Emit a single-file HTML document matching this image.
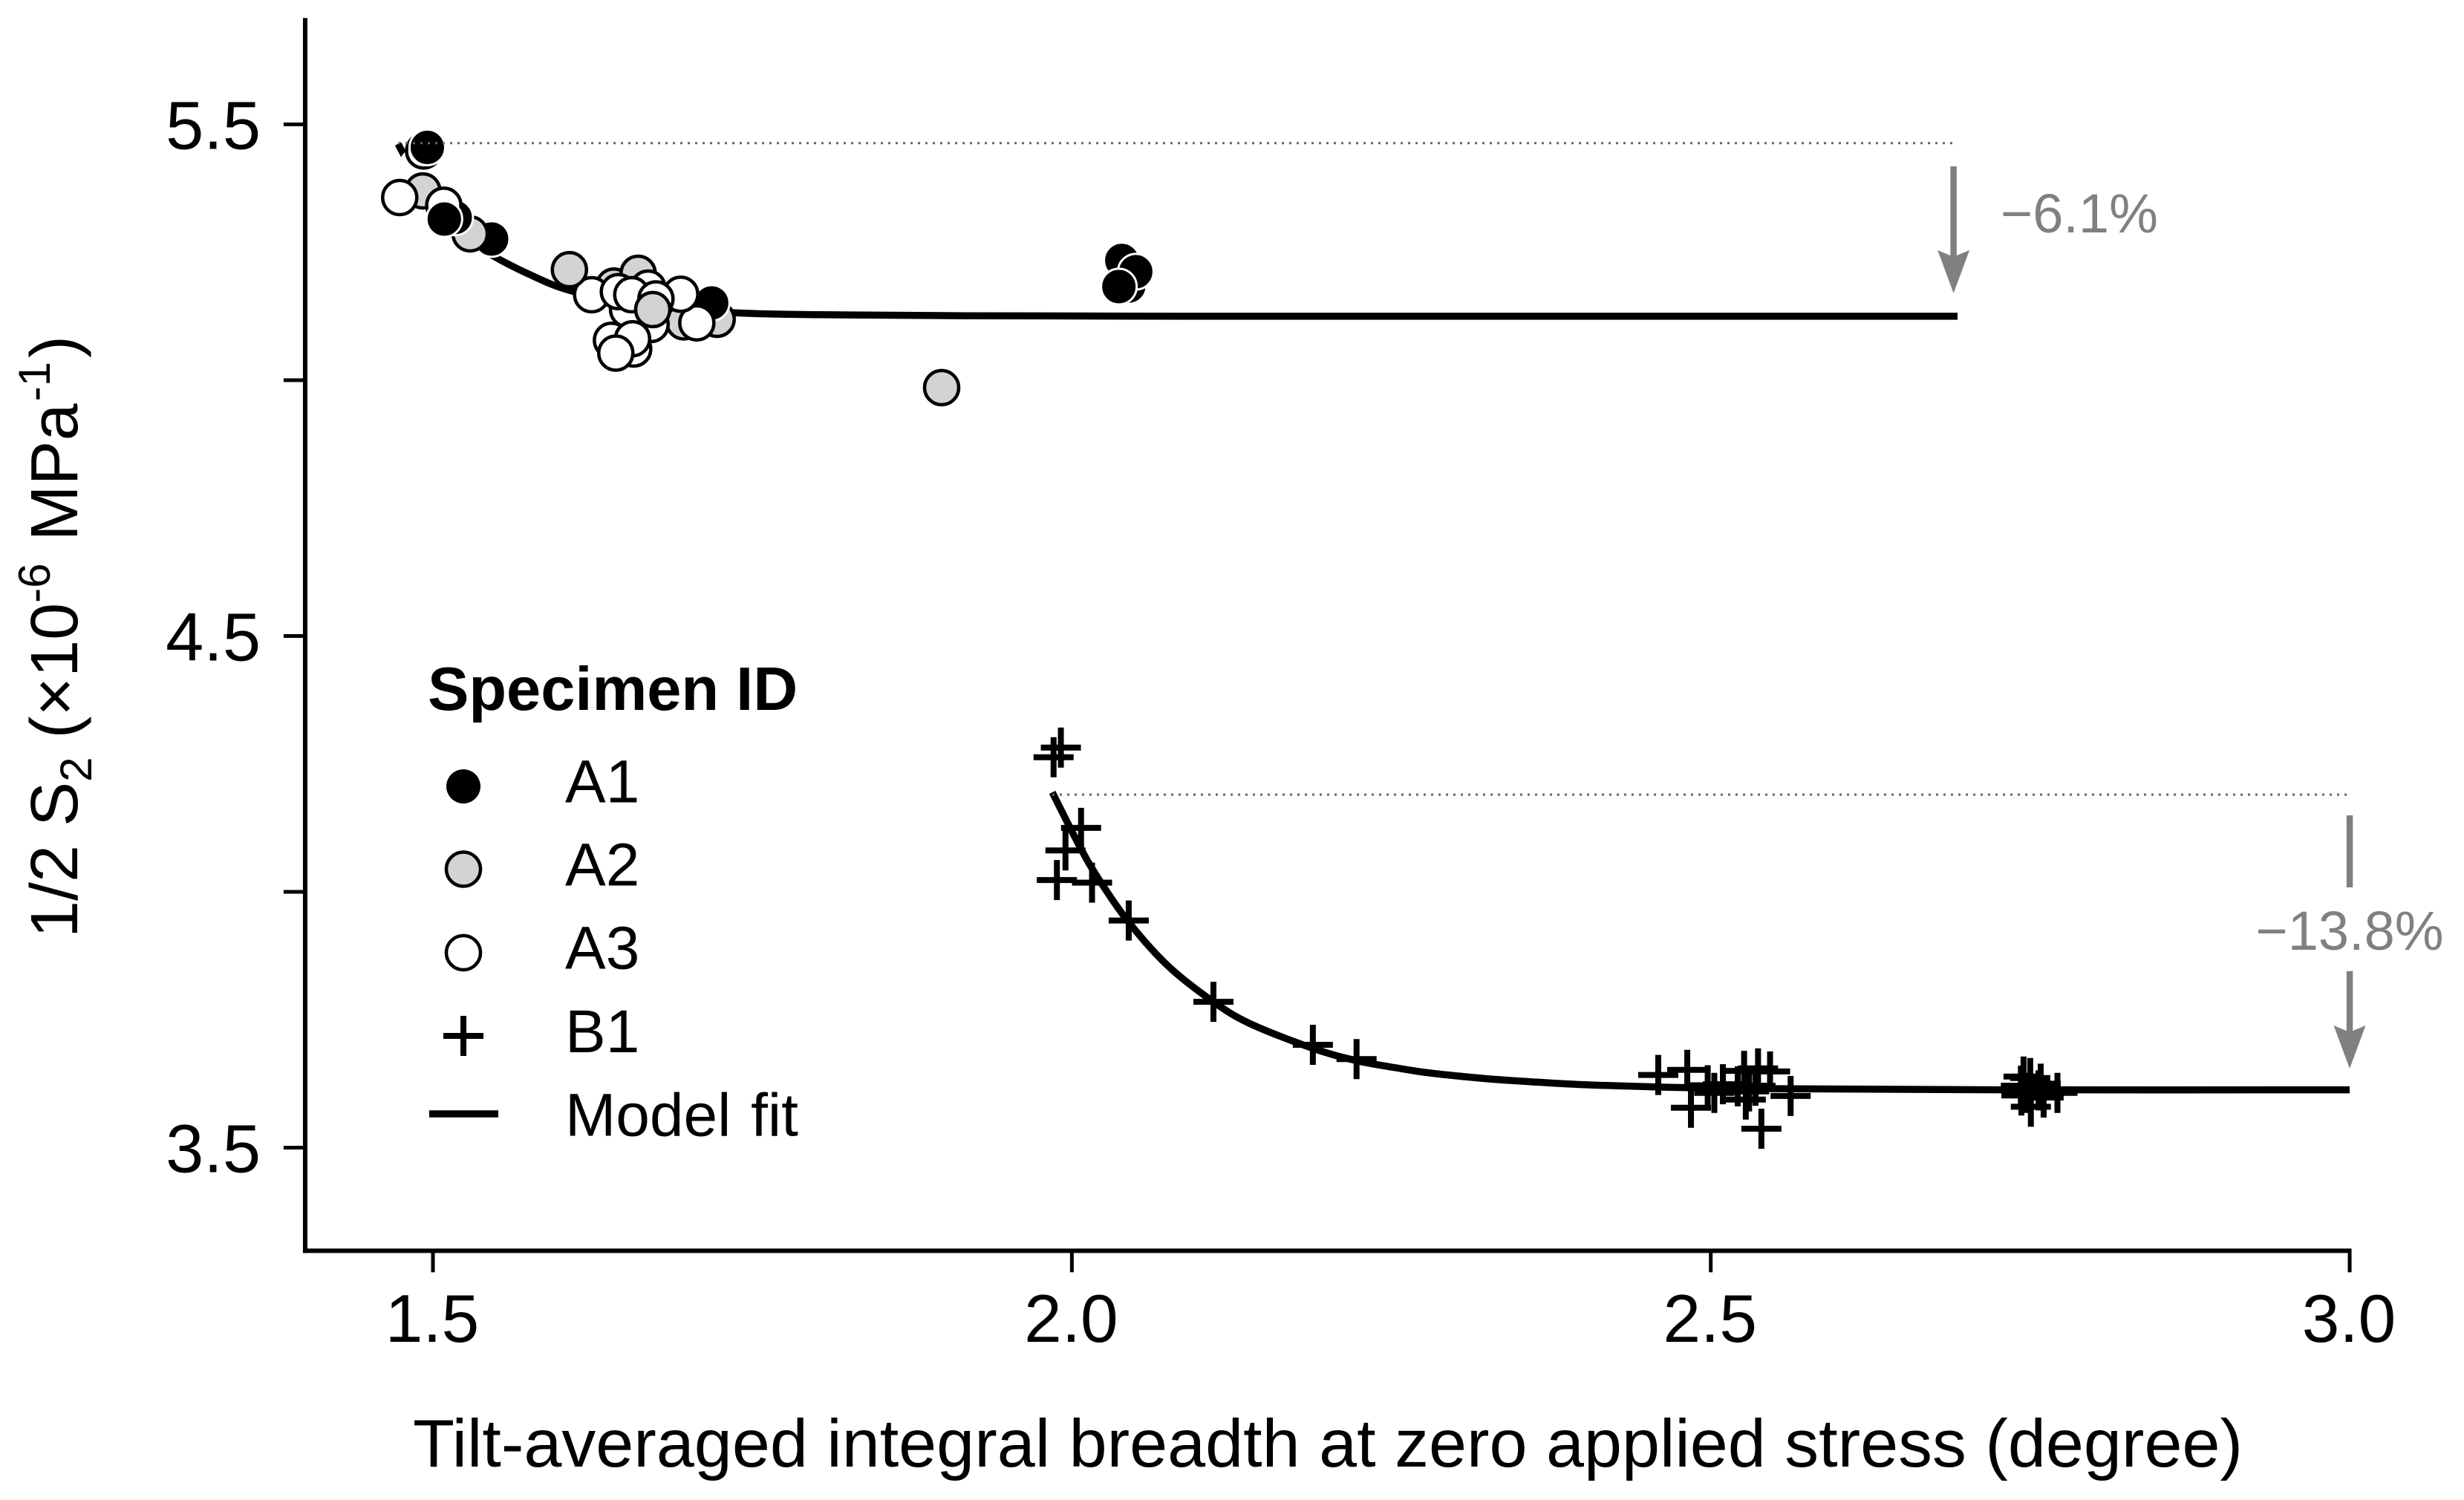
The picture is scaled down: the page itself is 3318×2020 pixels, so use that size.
<!DOCTYPE html>
<html lang="en">
<head>
<meta charset="utf-8">
<title>Integral breadth vs 1/2 S2</title>
<style>
html,body{margin:0;padding:0;background:#fff;}
svg{display:block;font-family:"Liberation Sans",Arial,sans-serif;}
</style>
</head>
<body>
<svg id="chart" width="3318" height="2020" viewBox="0 0 3318 2020" xmlns="http://www.w3.org/2000/svg">
  <rect width="3318" height="2020" fill="#fff"/>
  <g id="axes"></g>
  <g id="fits"></g>
  <g id="circles"></g>
  <g id="pluses"></g>
  <g id="annotations"></g>

  <text x="556" y="1975" font-size="91" textLength="2464" lengthAdjust="spacingAndGlyphs" fill="#000">Tilt-averaged integral breadth at zero applied stress (degree)</text>
  <text transform="translate(104,1263) rotate(-90)" font-size="90" fill="#000">1/2 S<tspan font-size="60" dy="19">2</tspan><tspan dy="-19"> (×10</tspan><tspan font-size="60" dy="-37">-6</tspan><tspan dy="37" dx="5"> MPa</tspan><tspan font-size="60" dy="-37" dx="3">-1</tspan><tspan dy="37" dx="5">)</tspan></text>

  <g fill="#000">
    <text x="576" y="956" font-size="83" font-weight="700">Specimen ID</text>
    <circle cx="624" cy="1059" r="23" fill="#000"/>
    <circle cx="624" cy="1170.5" r="23" fill="#d3d3d3" stroke="#000" stroke-width="4.5"/>
    <circle cx="624" cy="1283" r="23" fill="#fff" stroke="#000" stroke-width="4.5"/>
    <path d="M597 1395H651M624 1368V1422" stroke="#000" stroke-width="8" fill="none"/>
    <path d="M578 1500H671" stroke="#000" stroke-width="9.5" fill="none"/>
    <text x="761" y="1080.5" font-size="82">A1</text>
    <text x="761" y="1192.5" font-size="82">A2</text>
    <text x="761" y="1304.5" font-size="82">A3</text>
    <text x="761" y="1417" font-size="82">B1</text>
    <text x="761" y="1529.5" font-size="82" word-spacing="4">Model fit</text>
  </g>
</svg>
<script>
const xTicks = [1.5, 2.0, 2.5, 3.0];
const xTickLabels = ['1.5', '2.0', '2.5', '3.0'];
const yTicks = [3.5, 4.0, 4.5, 5.0, 5.5];
const yTickLabels = ['3.5', '', '4.5', '', '5.5'];

const fitAX = [1.4727,1.4866,1.5099,1.5331,1.5506,1.5796,1.6029,1.6377,1.6726,1.7348,1.8005,1.9167,2.091,2.3235,2.6931];
const fitAY = [5.462,5.399,5.319,5.267,5.238,5.202,5.1785,5.157,5.144,5.132,5.128,5.126,5.125,5.125,5.125];
const fitBX = [1.9847,2.0062,2.0205,2.0438,2.0749,2.1108,2.1398,2.1887,2.2228,2.2538,2.2799,2.3235,2.3642,2.4106,2.4862,2.5664,2.7303,3.0];
const fitBY = [4.1945,4.0885,4.027,3.943,3.856,3.785,3.742,3.694,3.670,3.656,3.646,3.635,3.628,3.622,3.617,3.615,3.613,3.613];

const circleSpecimen = ['A3','A1','A2','A3','A1','A2','A1','A3','A1',
  'A2','A2','A1','A3','A3','A3','A3','A3','A3','A3','A3',
  'A2','A2','A3','A2','A3','A3','A3','A3','A2',
  'A2','A1','A1','A1','A1'];
const circleX = [1.4927,1.4956,1.4921,1.474,1.5459,1.5291,1.5174,1.5085,1.5089,
  1.7224,1.6963,1.7181,1.7065,1.6939,1.6707,1.6523,1.6571,1.6397,1.6562,1.6431,
  1.6416,1.6606,1.6242,1.6068,1.6451,1.6684,1.6556,1.6745,1.672,
  1.8981,2.0391,2.0445,2.05,2.0368];
const circleY = [5.448,5.455,5.370,5.357,5.276,5.286,5.318,5.342,5.315,
  5.119,5.114,5.151,5.112,5.168,5.109,5.138,5.061,5.078,5.081,5.053,
  5.184,5.209,5.167,5.216,5.173,5.180,5.167,5.159,5.138,
  4.9855,5.234,5.184,5.212,5.183];

const b1X = [1.9914,1.9857,2.0072,1.995,1.9883,2.0158,2.0445,2.1108,2.1886,2.2228,
  2.4589,2.4816,2.4845,2.4976,2.5028,2.5095,2.5261,2.5274,2.537,2.5464,2.5625,2.5396,2.53,2.535,2.5211,
  2.75,2.7427,2.7582,2.7713,2.7505,2.7477,2.7431,2.7565,2.7448,2.7605];
const b1Y = [4.282,4.263,4.125,4.081,4.023,4.018,3.944,3.785,3.701,3.673,
  3.642,3.652,3.578,3.622,3.607,3.624,3.650,3.594,3.655,3.649,3.601,3.537,3.610,3.621,3.620,
  3.636,3.621,3.625,3.607,3.580,3.607,3.602,3.612,3.639,3.598];

const refAX = [1.4727, 2.69];
const refAY = 5.4634;
const refBX = [1.9847, 3.0];
const refBY = 4.19;
const arrowAX = 2.69;
const arrowAY = [5.418, 5.17];
const arrowBX = 3.0;
const arrowBGapY = [4.1495, 4.0087];
const arrowBY = [3.845, 3.6546];
const fitOcclusionX = 1.4895;
const fitOcclusionY = 5.417;

const NS = 'http://www.w3.org/2000/svg';
const xScale = v => 583 + (v - 1.5) * 1720.7;
const yScale = v => 1545.5 - (v - 3.5) * 689;
const X_MIN = 1.4, X_MAX = 3.0, Y_MIN = 3.2985, Y_MAX = 5.708;
const axisBottom = yScale(Y_MIN);
const axisLeft = xScale(X_MIN);

function make(tag, parent, props) {
  const el = document.createElementNS(NS, tag);
  for (const k in props) el.setAttribute(k, props[k]);
  parent.appendChild(el);
  return el;
}
function smoothPath(xs, ys) {
  const p = xs.map((x, i) => [xScale(x), yScale(ys[i])]);
  let d = 'M' + p[0][0].toFixed(1) + ' ' + p[0][1].toFixed(1);
  for (let i = 0; i < p.length - 1; i++) {
    const a = p[Math.max(i - 1, 0)], b = p[i], c = p[i + 1], e = p[Math.min(i + 2, p.length - 1)];
    const c1x = b[0] + (c[0] - a[0]) / 6, c1y = b[1] + (c[1] - a[1]) / 6;
    const c2x = c[0] - (e[0] - b[0]) / 6, c2y = c[1] - (e[1] - b[1]) / 6;
    d += 'C' + [c1x, c1y, c2x, c2y, c[0], c[1]].map(n => n.toFixed(1)).join(' ');
  }
  return d;
}

const axes = document.getElementById('axes');
const ySpine = make('line', axes, {x1: axisLeft, x2: axisLeft, y1: yScale(Y_MAX), y2: axisBottom + 3, stroke: '#000', 'stroke-width': 6});


const xSpine = make('line', axes, {x1: axisLeft - 3, x2: xScale(X_MAX) + 2.5, y1: axisBottom, y2: axisBottom, stroke: '#000', 'stroke-width': 6});



xTicks.forEach((t, i) => {
  const tick = make('line', axes, {x1: xScale(t), x2: xScale(t), y1: axisBottom, y2: axisBottom + 29, stroke: '#000', 'stroke-width': 5});
  
  
  const label = make('text', axes, {x: xScale(t) - 1, y: 1807, 'text-anchor': 'middle', 'font-size': 91, fill: '#000'});
  label.textContent = xTickLabels[i];
  
  
});
yTicks.forEach((t, i) => {
  const tick = make('line', axes, {x1: axisLeft, x2: axisLeft - 29, y1: yScale(t), y2: yScale(t), stroke: '#000', 'stroke-width': 5});
  
  
  if (yTickLabels[i]) {
    const label = make('text', axes, {x: 351, y: yScale(t) + 33, 'text-anchor': 'end', 'font-size': 92, fill: '#000'});
    label.textContent = yTickLabels[i];
    
    
  }
});

const fits = document.getElementById('fits');
const fitA = make('path', fits, {d: smoothPath(fitAX, fitAY), fill: 'none', stroke: '#000', 'stroke-width': 9.5});


const fitB = make('path', fits, {d: smoothPath(fitBX, fitBY), fill: 'none', stroke: '#000', 'stroke-width': 9.5});


const occlusion = make('circle', fits, {cx: xScale(fitOcclusionX), cy: yScale(fitOcclusionY), r: 28, fill: '#fff'});



const circleStyle = {
  A1: {r: 24, fill: '#000', stroke: '#fff', 'stroke-width': 3},
  A2: {r: 23, fill: '#d3d3d3', stroke: '#000', 'stroke-width': 4.5},
  A3: {r: 23, fill: '#fff', stroke: '#000', 'stroke-width': 4.5}
};
const circlesG = document.getElementById('circles');
circleX.forEach((v, i) => {
  const s = circleSpecimen[i];
  const c = make('circle', circlesG, Object.assign({cx: xScale(v), cy: yScale(circleY[i])}, circleStyle[s]));
  
  
});

const plusG = document.getElementById('pluses');
b1X.forEach((v, i) => {
  const cx = xScale(v), cy = yScale(b1Y[i]);
  const p = make('path', plusG, {d: `M${cx - 27} ${cy}H${cx + 27}M${cx} ${cy - 27}V${cy + 27}`, stroke: '#000', 'stroke-width': 8, fill: 'none'});
  
  
});

const GREY = '#808080';
const ann = document.getElementById('annotations');
function dotted(xs, yv, name) {
  const l = make('line', ann, {x1: xScale(xs[0]), x2: xScale(xs[1]), y1: yScale(yv), y2: yScale(yv), stroke: '#666', 'stroke-width': 3, 'stroke-dasharray': '3 7'});
  
  
}
dotted(refAX, refAY, 'reference-line-a');
dotted(refBX, refBY, 'reference-line-b');

function arrow(xv, ys, name) {
  const x = xScale(xv), y0 = yScale(ys[0]), y1 = yScale(ys[1]);
  const shaft = make('line', ann, {x1: x, x2: x, y1: y0, y2: y1 - 40, stroke: GREY, 'stroke-width': 8.5});
  
  
  const head = make('path', ann, {d: `M${x} ${y1}L${x - 21.5} ${y1 - 58}L${x} ${y1 - 49}L${x + 21.5} ${y1 - 58}Z`, fill: GREY});
  
  
}
arrow(arrowAX, arrowAY, 'arrow-a');
arrow(arrowBX, arrowBY, 'arrow-b');
const gap = make('line', ann, {x1: xScale(arrowBX), x2: xScale(arrowBX), y1: yScale(arrowBGapY[0]), y2: yScale(arrowBGapY[1]), stroke: GREY, 'stroke-width': 8.5});



const labelA = make('text', ann, {x: 2694, y: 313, 'font-size': 74, fill: GREY});
labelA.textContent = '\u22126.1%';


const labelB = make('text', ann, {x: xScale(arrowBX), y: 1279, 'text-anchor': 'middle', 'font-size': 74, fill: GREY});
labelB.textContent = '\u221213.8%';


</script>
</body>
</html>
